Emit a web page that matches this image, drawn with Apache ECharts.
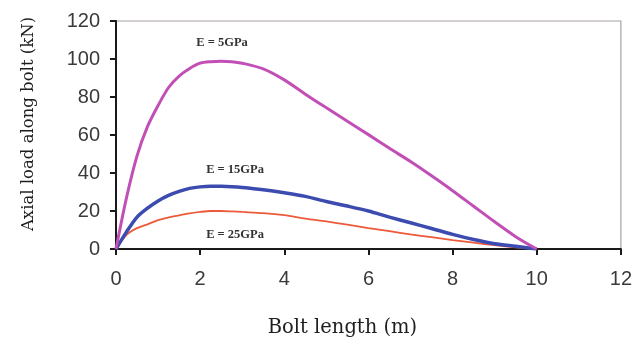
<!DOCTYPE html>
<html>
<head>
<meta charset="utf-8">
<script src="https://cdn.jsdelivr.net/npm/echarts@6/dist/echarts.min.js"></script>
<style>html,body{margin:0;padding:0;background:#fff}#c{width:635px;height:343px}</style>
</head>
<body>
<div id="c"></div>
<script>
const xValues = [0, 0.25, 0.5, 0.75, 1, 1.25, 1.5, 1.75, 2, 2.25, 2.5, 2.75, 3, 3.5, 4, 4.5, 5, 5.5, 6, 6.5, 7, 7.5, 8, 8.5, 9, 9.5, 10];
const e5GPa  = [0, 27, 49, 64.5, 75.5, 85, 91, 95, 97.8, 98.6, 98.8, 98.6, 97.8, 94.8, 89, 81.5, 74.3, 67.2, 60.2, 53, 46, 38.5, 30.7, 22.5, 14.3, 6.5, 0];
const e15GPa = [0, 9, 16.8, 21.5, 25.3, 28.2, 30.3, 31.9, 32.7, 33, 33, 32.8, 32.4, 31.2, 29.6, 27.7, 25, 22.6, 20, 16.8, 13.8, 10.8, 7.7, 5, 2.8, 1.4, 0];
const e25GPa = [0, 7.5, 11, 13, 15.2, 16.6, 17.7, 18.7, 19.5, 20, 20, 19.8, 19.5, 18.9, 17.8, 16, 14.5, 12.8, 11, 9.4, 7.7, 6.2, 4.7, 3.3, 2, 0.9, 0];
const seriesNames = ['E = 5GPa', 'E = 15GPa', 'E = 25GPa'];
const labelCoords = [[2.52, 108.5], [2.83, 41.9], [2.83, 7.3]];
const xTicks = {min: 0, max: 12, interval: 2};
const yTicks = {min: 0, max: 120, interval: 20};

const pairs = arr => xValues.map((x, i) => [x, arr[i]]);
const colors = ['#c24fb6', '#3b4bb0', '#ec5a3a'];
const widths = [3, 3.5, 1.8];
const seriesData = [e5GPa, e15GPa, e25GPa];

const chart = echarts.init(document.getElementById('c'), null, {renderer: 'canvas'});
chart.setOption({
  backgroundColor: '#ffffff',
  animation: false,
  grid: {left: 116, right: 14, top: 21, bottom: 93, show: true, borderColor: '#a8a2a0', borderWidth: 1.2},
  xAxis: {
    type: 'value', min: xTicks.min, max: xTicks.max, interval: xTicks.interval,
    name: 'Bolt length (m)', nameLocation: 'middle', nameGap: 69,
    nameTextStyle: {fontFamily: 'DejaVu Serif', fontSize: 19.5, color: '#1e1e1e', padding: [0, 52, 0, 0]},
    axisLine: {show: true, lineStyle: {color: '#1a1a1a', width: 2}},
    axisTick: {show: true, length: 6, lineStyle: {color: '#1a1a1a', width: 2}},
    axisLabel: {fontFamily: 'Liberation Sans', fontSize: 20, color: '#3a3a3a', margin: 20},
    splitLine: {show: false}
  },
  yAxis: {
    type: 'value', min: yTicks.min, max: yTicks.max, interval: yTicks.interval,
    name: 'Axial load along bolt (kN)', nameLocation: 'middle', nameGap: 79,
    nameTextStyle: {fontFamily: 'DejaVu Serif', fontSize: 16.5, color: '#1e1e1e', padding: [0, 0, 0, 22]},
    axisLine: {show: true, lineStyle: {color: '#1a1a1a', width: 2}},
    axisTick: {show: true, length: 6, lineStyle: {color: '#1a1a1a', width: 2}},
    axisLabel: {fontFamily: 'Liberation Sans', fontSize: 20, color: '#3a3a3a', margin: 16},
    splitLine: {show: false}
  },
  series: seriesData.map((d, i) => ({
    type: 'line', name: seriesNames[i], data: pairs(d), showSymbol: false, smooth: 0.3,
    lineStyle: {color: colors[i], width: widths[i]}, itemStyle: {color: colors[i]},
    z: 3 - i,
    markPoint: {
      symbol: 'circle', symbolSize: 0, silent: true,
      label: {show: true, position: 'inside', formatter: seriesNames[i],
        fontFamily: 'Liberation Serif', fontWeight: 'bold', fontSize: 12.5, color: '#333'},
      data: [{coord: labelCoords[i], value: seriesNames[i]}]
    }
  }))
});
</script>
</body>
</html>
